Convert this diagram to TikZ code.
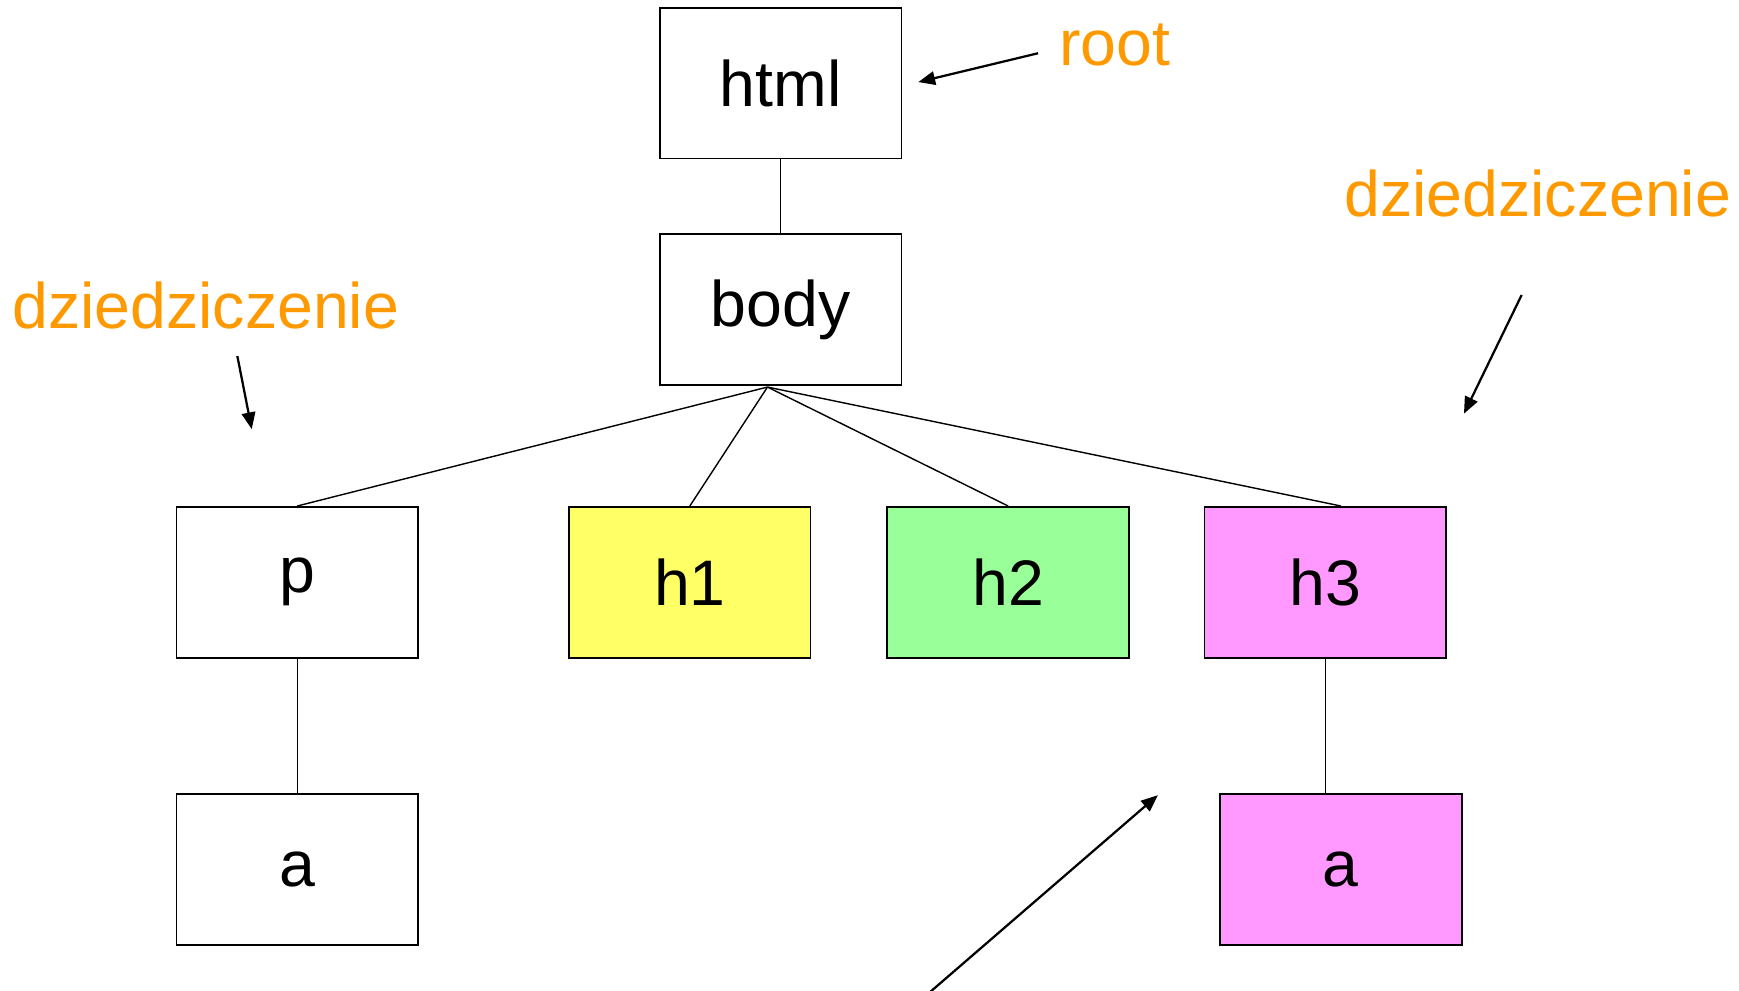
\documentclass[tikz,border=0pt]{standalone}
\usepackage{fontspec}
\setmainfont{Liberation Sans}
\usetikzlibrary{arrows.meta}

\definecolor{tagyellow}{RGB}{255,255,102}
\definecolor{taggreen}{RGB}{153,255,153}
\definecolor{tagpink}{RGB}{255,153,255}
\definecolor{noteorange}{RGB}{255,153,0}

\begin{document}
\begin{tikzpicture}[x=0.027727cm,y=-0.027727cm,
  tag/.style={draw,line width=1.2pt,minimum width=6.04cm,minimum height=3.77cm,
    inner sep=0pt,font=\fontsize{45.8}{54}\selectfont},
  note/.style={text=noteorange,inner sep=0pt,anchor=base west,
    font=\fontsize{45.8}{54}\selectfont},
  edge/.style={line width=1pt},
  pointer/.style={line width=1.6pt,-{Triangle[length=0.42cm,width=0.34cm]}}]
  \useasboundingbox (0,0) rectangle (1568,893);

  % Drzewo dokumentu
  \node[tag] (html) at (704,75) {html};
  \node[tag] (body) at (704,279) {body};
  \node[tag] (p) at (268,525) {p};
  \node[tag,fill=tagyellow] (h1) at (622,525) {h1};
  \node[tag,fill=taggreen] (h2) at (909,525) {h2};
  \node[tag,fill=tagpink] (h3) at (1195,525) {h3};
  \node[tag] (pa) at (268,784) {a};
  \node[tag,fill=tagpink] (h3a) at (1209,784) {a};

  % Krawedzie
  \coordinate (fork) at (692,349);
  \draw[edge] (html) -- (body);
  \draw[edge] (fork) -- (p.north);
  \draw[edge] (fork) -- (h1.north);
  \draw[edge] (fork) -- (h2.north);
  \draw[edge] (fork) -- ([xshift=0.39cm]h3.north);
  \draw[edge] (p) -- (pa);
  \draw[edge] (h3.south) -- (h3.south |- h3a.north);

  % Opisy
  \node[note] (rootnote) at (955,59) {root};
  \node[note] (leftnote) at (11,296) {dziedziczenie};
  \node[note] (rightnote) at (1212,195) {dziedziczenie};

  % Strzalki
  \coordinate (roottail) at (936,48);
  \coordinate (roottip) at (828,74);
  \coordinate (lefttail) at (214,321);
  \coordinate (lefttip) at (227,387);
  \coordinate (righttail) at (1372,266);
  \coordinate (righttip) at (1320,373);
  \coordinate (lowtail) at (838,895);
  \coordinate (lowtip) at (1044,717);
  \draw[pointer] (roottail) -- (roottip);
  \draw[pointer] (lefttail) -- (lefttip);
  \draw[pointer] (righttail) -- (righttip);
  \draw[pointer] (lowtail) -- (lowtip);
\end{tikzpicture}
\end{document}
